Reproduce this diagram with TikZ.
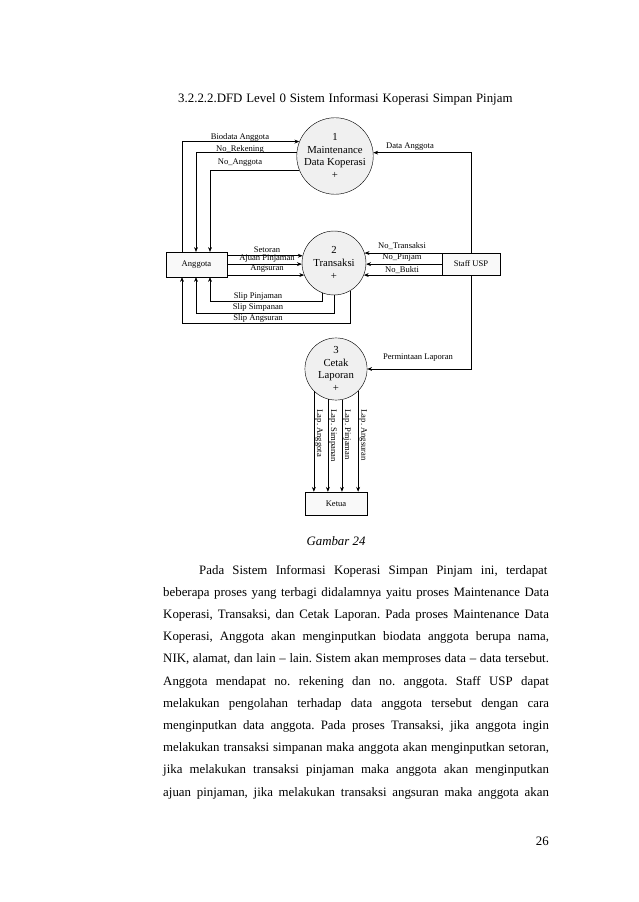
\documentclass[tikz,border=0pt]{standalone}
\usepackage{fontspec}
\setmainfont{Liberation Serif}
\usetikzlibrary{arrows.meta,positioning}
\frenchspacing
\tikzset{
  proc/.style={circle, draw, fill=gray!12, minimum size=59.7pt, inner sep=0pt, align=center, font=\fontsize{10}{12}\selectfont},
  ent/.style={draw, fill=gray!5, minimum width=57pt, minimum height=23pt, inner sep=1pt, font=\fontsize{8}{9}\selectfont},
  flow/.style={line width=0.6pt, -{Stealth[length=4.5pt,width=3.6pt]}},
  plain/.style={line width=0.6pt},
  lbl/.style={font=\fontsize{8}{9}\selectfont, inner sep=0.5pt},
  vlbl/.style={lbl, rotate=-90, anchor=south west},
  body/.style={font=\fontsize{12}{14}\selectfont, inner sep=0pt, anchor=base west}
}
\begin{document}
\begin{tikzpicture}[x=0.9333pt,y=-0.9333pt]
  \fill[white] (0,0) rectangle (638,902);
  % heading
  \node[body] (title) at (178,103) {\makebox[312pt][s]{3.2.2.2.DFD Level 0 Sistem Informasi Koperasi Simpan Pinjam}};

  % processes and entities
  \node[proc] (p1) at (335,156) {1\\Maintenance\\Data Koperasi\\+};
  \node[proc] (p2) at (334,263) {2\\Transaksi\\+};
  \node[proc, minimum size=58pt] (p3) at (336,369) {3\\Cetak\\Laporan\\+};
  \node[ent] (anggota) at (196.5,264.5) {Anggota};
  \node[ent, minimum width=54pt, minimum height=20.5pt] (staff) at (471,264) {Staff USP};
  \node[ent, minimum width=58pt, minimum height=21.5pt] (ketua) at (336,503.5) {Ketua};

  % columns above/below Anggota
  \coordinate (c1) at (182,0);
  \coordinate (c2) at (196,0);
  \coordinate (c3) at (210,0);
  \coordinate (s1) at (0,301);
  \coordinate (s2) at (0,313);
  \coordinate (s3) at (0,323);

  % Anggota <-> 1
  \draw[flow] (c1 |- anggota.north) |- (p1.158);
  \draw[flow] (p1.175) -| (c2 |- anggota.north);
  \draw[flow] (p1.202) -| (c3 |- anggota.north);
  \node[lbl] (bio) at (240,137) {Biodata Anggota};
  \node[lbl] (norek) at (240,149) {No\_Rekening};
  \node[lbl] (noang) at (240,163) {No\_Anggota};
  % Staff USP -> 1
  \draw[flow] (staff.north) |- (p1.5);
  \node[lbl] (dang) at (410,147) {Data Anggota};

  % Anggota <-> 2
  \draw[flow] (anggota.east |- p2.167) -- (p2.167);
  \draw[flow] (anggota.east |- p2.182) -- (p2.182);
  \draw[flow] (anggota.east |- p2.202) -- (p2.202);
  \node[lbl] (setor) at (267,250) {Setoran};
  \node[lbl] (ajuan) at (267,259) {Ajuan Pinjaman};
  \node[lbl] (angs) at (267,269) {Angsuran};
  \draw[flow] (p2.248) |- (c3 |- s1) -- (c3 |- anggota.south);
  \draw[flow] (p2.270) |- (c2 |- s2) -- (c2 |- anggota.south);
  \draw[flow] (p2.300) |- (c1 |- s3) -- (c1 |- anggota.south);
  \node[lbl] (slpj) at (258,296) {Slip Pinjaman};
  \node[lbl] (slsm) at (258,307) {Slip Simpanan};
  \node[lbl] (slag) at (258,318) {Slip Angsuran};

  % Staff USP -> 2
  \draw[flow] (staff.west |- p2.18) -- (p2.18);
  \draw[flow] (staff.west |- p2.358) -- (p2.358);
  \draw[flow] (staff.west |- p2.338) -- (p2.338);
  \node[lbl] (notr) at (402,246) {No\_Transaksi};
  \node[lbl] (nopj) at (402,258) {No\_Pinjam};
  \node[lbl] (nobk) at (402,270) {No\_Bukti};

  % Staff USP -> 3 -> Ketua
  \draw[flow] (staff.south) |- (p3.0);
  \node[lbl] (minta) at (418,358) {Permintaan Laporan};
  \foreach \a/\t in {225/Lap. Anggota, 255/Lap. Simpanan, 281/Lap. Pinjaman, 315/Lap. Angsuran}{
    \draw[flow] (p3.\a) -- (p3.\a |- ketua.north);
    \node[vlbl] (lap\a) at ([xshift=0.5pt]p3.\a |- 0,409) {\t};
  }

  % caption and text
  \node[font=\fontsize{12}{14}\selectfont\itshape] (cap) at (336,541) {Gambar 24};
  \node[body] (l1) at (199,574) {\makebox[325pt][s]{Pada Sistem Informasi Koperasi Simpan Pinjam ini, terdapat}};
  \node[body] (l2) at (163,596.2) {\makebox[360pt][s]{beberapa proses yang terbagi didalamnya yaitu proses Maintenance Data}};
  \node[body] (l3) at (163,618.4) {\makebox[360pt][s]{Koperasi, Transaksi, dan Cetak Laporan. Pada proses Maintenance Data}};
  \node[body] (l4) at (163,640.6) {\makebox[360pt][s]{Koperasi, Anggota akan menginputkan biodata anggota berupa nama,}};
  \node[body] (l5) at (163,662.8) {\makebox[360pt][s]{NIK, alamat, dan lain – lain. Sistem akan memproses data – data tersebut.}};
  \node[body] (l6) at (163,685) {\makebox[360pt][s]{Anggota mendapat no. rekening dan no. anggota. Staff USP dapat}};
  \node[body] (l7) at (163,707.2) {\makebox[360pt][s]{melakukan pengolahan terhadap data anggota tersebut dengan cara}};
  \node[body] (l8) at (163,729.4) {\makebox[360pt][s]{menginputkan data anggota. Pada proses Transaksi, jika anggota ingin}};
  \node[body] (l9) at (163,751.6) {\makebox[360pt][s]{melakukan transaksi simpanan maka anggota akan menginputkan setoran,}};
  \node[body] (l10) at (163,773.8) {\makebox[360pt][s]{jika melakukan transaksi pinjaman maka anggota akan menginputkan}};
  \node[body] (l11) at (163,796) {\makebox[360pt][s]{ajuan pinjaman, jika melakukan transaksi angsuran maka anggota akan}};
  \node[body, anchor=base east] (pg) at (549,845) {26};
\end{tikzpicture}
\end{document}
